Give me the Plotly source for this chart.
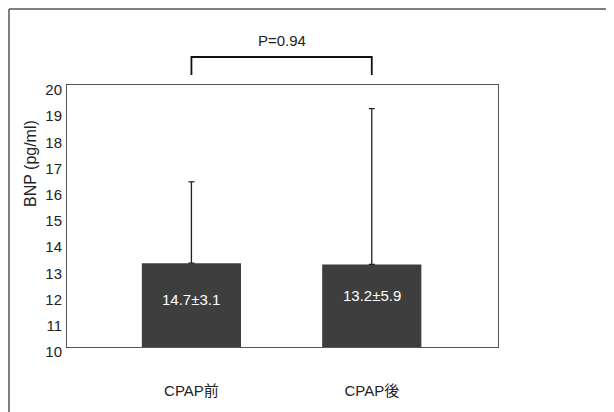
import plotly.graph_objects as go

# ─── Data ─────────────────────────────────────────────────────────────────────
categories = ["CPAP前", "CPAP後"]
bar_means = [13.2, 13.15]
bar_sd_up = [3.1, 5.95]
bar_labels = ["14.7±3.1", "13.2±5.9"]
y_ticks = list(range(10, 21))
p_text = "P=0.94"

_FONT = "Liberation Sans Narrow, Arial, Liberation Sans, Noto Sans CJK JP, sans-serif"

# page body has an 8px margin, so the figure starts at (8, 8) on screen
OFF = 8
W, H = 614 - OFF, 412 - OFF
L, R, T, B = 67, 498, 85, 347  # plot area in screen pixels


def px_x(p):
    return (p - L) / (R - L)


def px_y(p):
    return (B - p) / (B - T)


fig = go.Figure()
fig.add_trace(
    go.Bar(
        x=categories,
        y=[m - 10 for m in bar_means],
        base=10,
        width=0.55,
        marker=dict(color="#3e3e3e", line=dict(width=0)),
        error_y=dict(
            type="data", array=bar_sd_up, arrayminus=[0, 0],
            color="#222222", thickness=1.3, width=3,
        ),
        hoverinfo="skip",
    )
)

# values printed inside the bars
for cat, lab, dy in zip(categories, bar_labels, [11.8, 11.98]):
    fig.add_annotation(
        x=cat, y=dy, text=lab, showarrow=False,
        xanchor="center", yanchor="middle",
        font=dict(color="white", size=15, family=_FONT),
    )

# significance bracket
fig.add_shape(
    type="path", xref="x", yref="paper",
    path=f"M 0,{px_y(75)} L 0,{px_y(57)} L 1,{px_y(57)} L 1,{px_y(75)}",
    line=dict(color="#111111", width=1.8),
)
fig.add_annotation(
    x=0.5, xref="x", y=px_y(40), yref="paper", text=p_text, showarrow=False,
    xanchor="center", yanchor="middle",
    font=dict(color="#222222", size=15, family=_FONT),
)

# y axis title
fig.add_annotation(
    x=px_x(30), xref="paper", y=px_y(164), yref="paper", text="BNP (pg/ml)",
    textangle=-90, showarrow=False, xanchor="center", yanchor="middle",
    font=dict(color="#222222", size=16, family=_FONT),
)

# outer frame (top and left edge of the scanned panel)
fig.add_shape(type="line", xref="paper", yref="paper",
              x0=px_x(9), x1=px_x(614), y0=px_y(9), y1=px_y(9),
              line=dict(color="#555555", width=1.5))
fig.add_shape(type="line", xref="paper", yref="paper",
              x0=px_x(9), x1=px_x(9), y0=px_y(9), y1=px_y(412),
              line=dict(color="#555555", width=1.5))

fig.update_layout(
    width=W, height=H,
    margin=dict(l=L - OFF, r=614 - R, t=T - OFF, b=412 - B, pad=0),
    paper_bgcolor="white", plot_bgcolor="white",
    showlegend=False,
    font=dict(family=_FONT, color="#222222", size=15),
)
fig.update_xaxes(
    type="category", range=[-0.69, 1.70],
    showline=True, mirror=True, linecolor="#555555", linewidth=1,
    showgrid=False, ticks="", ticklabelstandoff=30,
    tickfont=dict(size=15),
)
fig.update_yaxes(
    range=[10, 20], tickvals=y_ticks,
    showline=True, mirror=True, linecolor="#555555", linewidth=1,
    showgrid=False, zeroline=False, ticks="", ticklabelshift=5,
    ticklabelstandoff=1, tickfont=dict(size=15),
)

fig.write_html("out.html")
